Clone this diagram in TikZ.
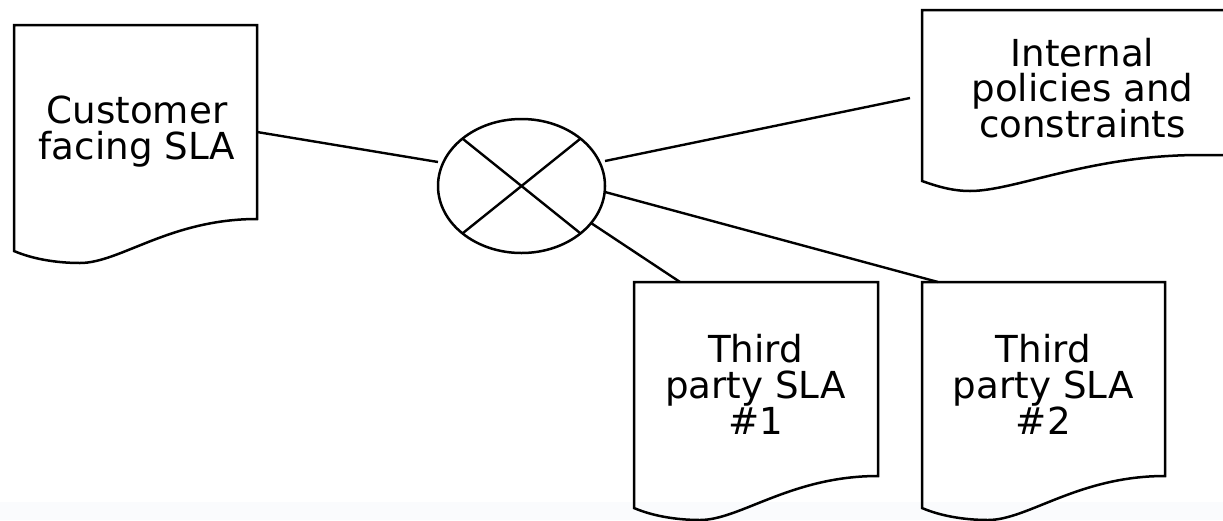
\documentclass[tikz,border=0pt]{standalone}
\usepackage{fontspec}
\setmainfont{DejaVu Sans}
\usetikzlibrary{calc,shapes.geometric}
\newcommand\mytightlines{\lineskiplimit=-50pt\relax}
\tikzset{
  docline/.style={line width=2.5pt, line join=miter},
  conn/.style={line width=2.4pt},
  docbox/.style={rectangle, draw=none, inner sep=0pt, outer sep=0pt},
  doctext/.style={font=\fontsize{37.2}{35.8}\selectfont, align=center, inner sep=0pt, outer sep=0pt, execute at begin node=\mytightlines},
}
\newcommand\docoutline[1]{%
  \draw[docline] (#1.north west) -- (#1.north east) -- (#1.south east)
    .. controls ($(#1.south east)+(-87,0)$) and ($(#1.south west)+(106,44)$) .. ($(#1.south west)+(66,44)$)
    .. controls ($(#1.south west)+(46,44)$) and ($(#1.south west)+(21,41)$) .. ($(#1.south west)+(0,32)$)
    -- cycle;}
\begin{document}
\begin{tikzpicture}[x=1pt,y=-1pt]
\useasboundingbox (0,0) rectangle (1223,520);
\clip (0,0) rectangle (1223,520);
\fill[fill={rgb,255:red,250;green,251;blue,253}] (0,502) rectangle (1223,520);

% documents
\node[docbox, minimum width=243pt, minimum height=194pt] (cust) at (135.5,122) {};
\node[docbox, minimum width=244pt, minimum height=194pt] (tp1) at (756,379) {};
\node[docbox, minimum width=243pt, minimum height=194pt] (tp2) at (1043.5,379) {};
\node[docbox, minimum width=318pt, minimum height=145pt] (int) at (1081,82.5) {};

\docoutline{cust}
\docoutline{tp1}
\docoutline{tp2}
\draw[docline] (int.south east) -- (int.north east) -- (int.north west) -- ($(int.north west)+(0,171)$)
  .. controls ($(int.north west)+(14,176)$) and ($(int.north west)+(30,181)$) .. ($(int.north west)+(48,181)$)
  .. controls ($(int.north west)+(93,181)$) and ($(int.north west)+(168,145)$) .. ($(int.north west)+(278,145)$)
  -- (int.south east);

\node[doctext] (cust-t) at ($(cust.center)+(1.5,9.9)$) {Customer\\facing SLA};
\node[doctext] (tp1-t) at ($(tp1.center)+(-0.5,5.6)$) {Third\\party SLA\\\#1};
\node[doctext] (tp2-t) at ($(tp2.center)+(-0.2,5.6)$) {Third\\party SLA\\\#2};
\node[doctext] (int-t) at ($(int.center)+(1.5,5.5)$) {Internal\\policies and\\constraints};

% combiner
\node[ellipse, draw, line width=2.5pt, minimum width=167pt, minimum height=134pt, inner sep=0pt] (sum) at (521.5,186) {};
\draw[conn] ($(sum.center)+(-59,-47.4)$) -- ($(sum.center)+(59,47.4)$);
\draw[conn] ($(sum.center)+(59,-47.4)$) -- ($(sum.center)+(-59,47.4)$);

% connectors
\draw[conn] ($(cust.east)+(0,10)$) -- ($(sum.center)+(-83.5,-24)$);
\draw[conn] ($(sum.center)+(83.5,-25)$) -- ($(int.west)+(-12,15.5)$);
\draw[conn] ($(sum.center)+(69.5,37)$) -- ($(tp1.north)+(-76,0)$);
\draw[conn] ($(sum.center)+(83.5,6)$) -- ($(tp2.north)+(-105.5,0)$);
\end{tikzpicture}
\end{document}
